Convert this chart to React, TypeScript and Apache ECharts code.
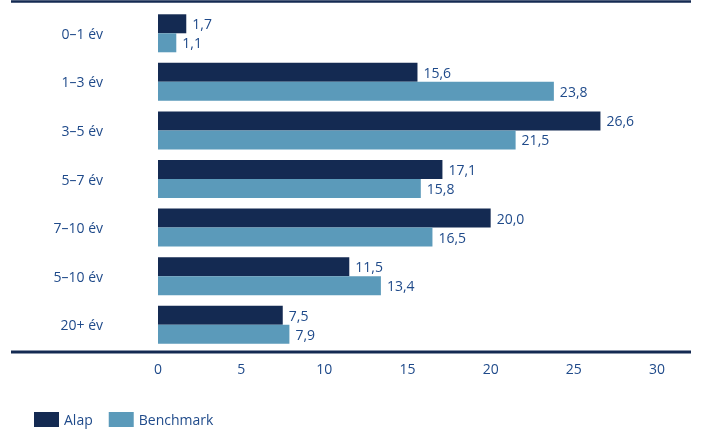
import React, { useEffect, useRef } from "react";
import * as echarts from "echarts";

const categories = ["0–1 év", "1–3 év", "3–5 év", "5–7 év", "7–10 év", "5–10 év", "20+ év"];
const alap = [1.7, 15.6, 26.6, 17.1, 20.0, 11.5, 7.5];
const benchmark = [1.1, 23.8, 21.5, 15.8, 16.5, 13.4, 7.9];
const xTicks = [0, 5, 10, 15, 20, 25, 30];

const DARK = "#142a52";
const LIGHT = "#5b9aba";
const TEXT = "#1f4a8a";
const FONT = "'Open Sans', 'Noto Sans', sans-serif";

export default function App() {
  const ref = useRef<HTMLDivElement>(null);
  useEffect(() => {
    if (!ref.current) return;
    const chart = echarts.init(ref.current, undefined, { renderer: "svg" });
    const fmt = (p: any) => Number(p.value).toFixed(1).replace(".", ",");
    chart.setOption({
      animation: false,
      textStyle: { fontFamily: FONT },
      grid: { left: 158, right: 44, top: 9, bottom: 82 },
      legend: {
        left: 29,
        top: 407,
        itemWidth: 25,
        itemHeight: 15,
        itemGap: 16,
        icon: "rect",
        textStyle: { color: TEXT, fontSize: 14, fontFamily: FONT },
        data: ["Alap", "Benchmark"],
      },
      xAxis: {
        type: "value",
        min: xTicks[0],
        max: xTicks[xTicks.length - 1],
        interval: 5,
        axisLine: { show: false },
        axisTick: { show: false },
        splitLine: { show: false },
        axisLabel: { color: TEXT, fontSize: 14, margin: 12, fontFamily: FONT },
      },
      yAxis: {
        type: "category",
        inverse: true,
        data: categories,
        axisLine: { show: false },
        axisTick: { show: false },
        axisLabel: { color: TEXT, fontSize: 14, margin: 55, fontFamily: FONT },
      },
      series: [
        {
          name: "Alap",
          type: "bar",
          data: alap,
          barWidth: 19,
          barGap: "0%",
          itemStyle: { color: DARK },
          label: { show: true, position: "right", distance: 6, color: TEXT, fontSize: 14, formatter: fmt, fontFamily: FONT },
        },
        {
          name: "Benchmark",
          type: "bar",
          data: benchmark,
          barWidth: 19,
          barGap: "0%",
          itemStyle: { color: LIGHT },
          label: { show: true, position: "right", distance: 6, color: TEXT, fontSize: 14, formatter: fmt, fontFamily: FONT },
        },
      ],
      graphic: [
        { type: "line", shape: { x1: 11, y1: 1.5, x2: 691, y2: 1.5 }, style: { stroke: DARK, lineWidth: 2.5 } },
        { type: "line", shape: { x1: 11, y1: 352, x2: 691, y2: 352 }, style: { stroke: DARK, lineWidth: 3 } },
      ],
    });
    return () => chart.dispose();
  }, []);
  return <div ref={ref} style={{ width: 701, height: 431, position: "fixed", top: 0, left: 0 }} />;
}
